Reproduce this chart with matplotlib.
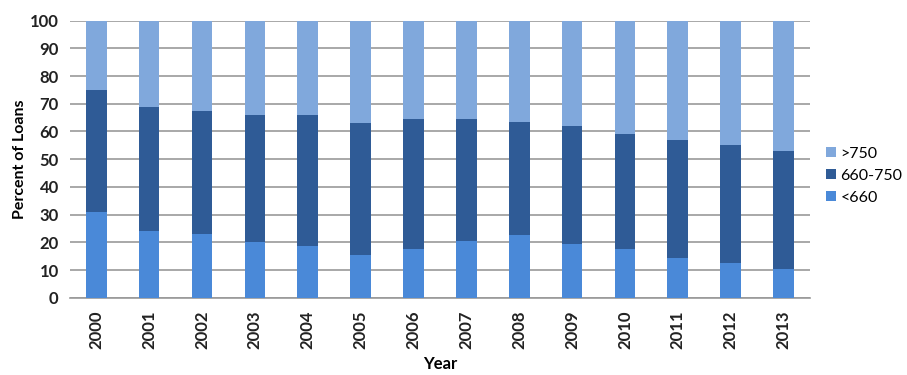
import matplotlib
matplotlib.use("Agg")
import matplotlib.pyplot as plt
import numpy as np

plt.rcParams['font.family'] = ['Lato', 'DejaVu Sans']

years = ['2000', '2001', '2002', '2003', '2004', '2005', '2006',
         '2007', '2008', '2009', '2010', '2011', '2012', '2013']
below_660 = [31, 24, 23, 20, 18.5, 15.5, 17.5, 20.5, 22.5, 19.5, 17.5, 14.5, 12.5, 10.5]
mid_660_750 = [44, 45, 44.5, 46, 47.5, 47.5, 47, 44, 41, 42.5, 41.5, 42.5, 42.5, 42.5]
above_750 = [25, 31, 32.5, 34, 34, 37, 35.5, 35.5, 36.5, 38, 41, 43, 45, 47]

c_low = '#4a89d8'
c_mid = '#2f5b96'
c_high = '#80a8dc'

fig = plt.figure(figsize=(9.07, 3.75), dpi=100)
ax = fig.add_axes([0.077, 0.206, 0.816, 0.739])

x = np.arange(len(years))
w = 0.39
b1 = ax.bar(x, below_660, w, color=c_low, label='<660', zorder=3)
bot2 = np.array(below_660)
b2 = ax.bar(x, mid_660_750, w, bottom=bot2, color=c_mid, label='660-750', zorder=3)
bot3 = bot2 + np.array(mid_660_750)
b3 = ax.bar(x, above_750, w, bottom=bot3, color=c_high, label='>750', zorder=3)

ax.set_ylim(0, 100)
ax.set_yticks(range(0, 101, 10))
ax.set_xlim(-0.5, len(years) - 0.5)
ax.set_xticks(x)
ax.set_xticklabels(years, rotation=90, fontsize=12, fontweight='bold', color='#222222')
for lab in ax.get_yticklabels():
    lab.set_fontsize(12)
    lab.set_fontweight('bold')
    lab.set_color('#222222')

ax.yaxis.grid(True, color='#999999', linewidth=1.2, zorder=0)
for s in ['top', 'right', 'left']:
    ax.spines[s].set_visible(False)
ax.spines['bottom'].set_color('#999999')
ax.spines['bottom'].set_linewidth(1.2)
ax.tick_params(axis='x', length=0, pad=9)
ax.tick_params(axis='y', length=0, pad=8)

ax.set_ylabel('Percent of Loans', fontsize=11.5, fontweight='bold', labelpad=2)
ax.set_xlabel('Year', fontsize=12, fontweight='bold', labelpad=5)

leg = ax.legend(handles=[b3, b2, b1], labels=['>750', '660-750', '<660'],
                loc='center left', bbox_to_anchor=(1.0, 0.44), frameon=False,
                fontsize=11.5, handlelength=0.6, handleheight=0.6,
                handletextpad=0.3, labelspacing=0.5, borderaxespad=0.6)

fig.savefig('out.png', dpi=100)
